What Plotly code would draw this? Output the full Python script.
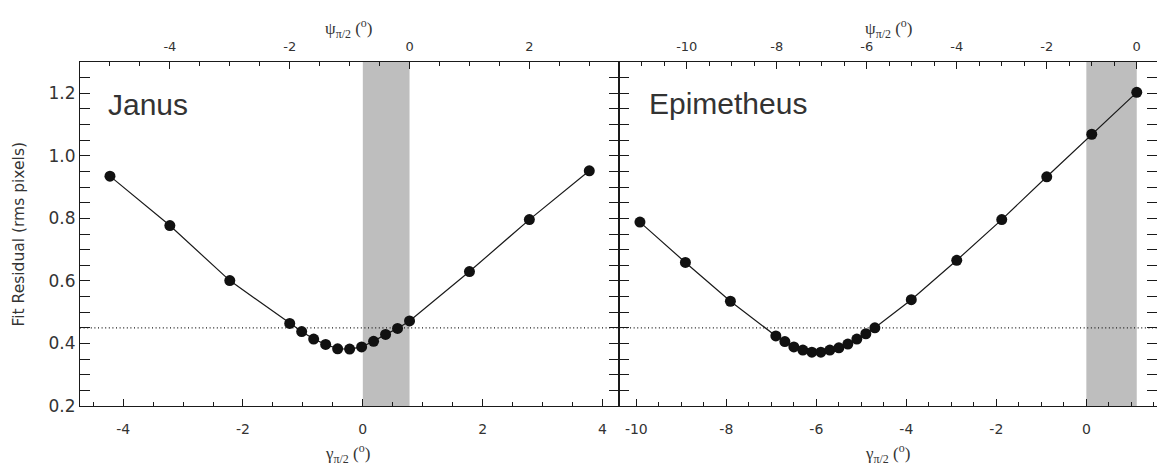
import plotly.graph_objects as go

# ---------------- data ----------------
janus_gamma = [-4.22, -3.22, -2.22, -1.22, -1.02, -0.82, -0.62, -0.42, -0.22,
               -0.02, 0.18, 0.38, 0.58, 0.78, 1.78, 2.78, 3.78]
janus_resid = [0.935, 0.777, 0.601, 0.464, 0.438, 0.414, 0.397, 0.383, 0.382,
               0.389, 0.407, 0.429, 0.448, 0.472, 0.630, 0.796, 0.952]

epi_gamma = [-9.92, -8.91, -7.91, -6.90, -6.70, -6.50, -6.30, -6.10, -5.90,
             -5.70, -5.50, -5.30, -5.10, -4.90, -4.70, -3.89, -2.88, -1.88,
             -0.88, 0.12, 1.12]
epi_resid = [0.788, 0.659, 0.535, 0.424, 0.406, 0.389, 0.379, 0.372, 0.372,
             0.379, 0.386, 0.398, 0.414, 0.431, 0.450, 0.540, 0.666, 0.796,
             0.933, 1.069, 1.203]

# gamma - psi offsets (psi = 0 at these gamma values) and shaded bands
janus_offset = 0.78
epi_offset = 1.12
janus_band = [0.0, 0.78]
epi_band = [0.0, 1.12]
threshold = 0.45

# axis ranges / ticks
janus_psi_range = [-5.5, 3.5]
epi_psi_range = [-11.5, 0.45]
y_range = [0.2, 1.3]

janus_bottom_ticks = [-4, -2, 0, 2, 4]
janus_bottom_text = ["-4", "-2", "0", "2", "4"]
janus_top_ticks = [-4, -2, 0, 2]
janus_top_text = ["-4", "-2", "0", "2"]
epi_bottom_ticks = [-10, -8, -6, -4, -2, 0]
epi_bottom_text = ["-10", "-8", "-6", "-4", "-2", "0"]
epi_top_ticks = [-10, -8, -6, -4, -2, 0]
epi_top_text = ["-10", "-8", "-6", "-4", "-2", "0"]
y_ticks = [0.2, 0.4, 0.6, 0.8, 1.0, 1.2]
y_text = ["0.2", "0.4", "0.6", "0.8", "1.0", "1.2"]

# ---------------- styling ----------------
W, H = 1157, 466
ML, MR, MT, MB = 79.5, 0, 62, 60
split = (619 - ML) / (W - ML - MR)

INK = "#1a1a1a"
TXT = "#333333"
TICKFONT = "DejaVu Sans"

fig = go.Figure()

for xa, ya, gx, ry in [("x", "y", janus_gamma, janus_resid),
                       ("x2", "y2", epi_gamma, epi_resid)]:
    fig.add_trace(go.Scatter(
        x=gx, y=ry, xaxis=xa, yaxis=ya, mode="lines+markers",
        line=dict(color=INK, width=1.2),
        marker=dict(color="#111111", size=11, line=dict(width=0)),
        showlegend=False, hoverinfo="skip"))

# shaded bands
for xref, yref, band in [("x", "y domain", janus_band), ("x2", "y2 domain", epi_band)]:
    fig.add_shape(type="rect", xref=xref, yref=yref, x0=band[0], x1=band[1],
                  y0=0, y1=1, fillcolor="#bebebe", line=dict(width=0), layer="below")
# dotted threshold line
for xref, yref in [("x domain", "y"), ("x2 domain", "y2")]:
    fig.add_shape(type="line", xref=xref, yref=yref, x0=0, x1=1, y0=threshold, y1=threshold,
                  line=dict(color=INK, width=1.2, dash="1px,2.6px"), layer="below")


def xax(rng, tv, tt, side, dom, anchor, fs, standoff, overlay=None):
    d = dict(range=rng, domain=dom, anchor=anchor, side=side,
             tickmode="array", tickvals=tv, ticktext=tt,
             ticks="inside", ticklen=7, tickwidth=1, tickcolor=INK,
             minor=dict(ticks="inside", ticklen=3.5, tickwidth=1, tickcolor=INK,
                        tickmode="linear", tick0=0, dtick=0.5),
             showline=True, linecolor=INK, linewidth=1.2, mirror=False,
             showgrid=False, zeroline=False, ticklabelstandoff=standoff,
             tickfont=dict(family=TICKFONT, size=fs, color=TXT))
    if overlay:
        d["overlaying"] = overlay
    return d


def yax(dom_anchor, show_labels):
    return dict(range=y_range, domain=[0, 1], anchor=dom_anchor,
                tickmode="array", tickvals=y_ticks, ticktext=y_text,
                showticklabels=show_labels,
                ticks="inside", ticklen=10, tickwidth=1, tickcolor=INK,
                minor=dict(ticks="inside", ticklen=5, tickwidth=1, tickcolor=INK,
                           tickmode="linear", tick0=0.2, dtick=0.05),
                showline=True, linecolor=INK, linewidth=1.2, mirror="allticks",
                showgrid=False, zeroline=False,
                tickfont=dict(family=TICKFONT, size=17, color=TXT))


janus_gamma_range = [janus_psi_range[0] + janus_offset, janus_psi_range[1] + janus_offset]
epi_gamma_range = [epi_psi_range[0] + epi_offset, epi_psi_range[1] + epi_offset]

fig.update_layout(
    width=W, height=H,
    margin=dict(l=ML, r=MR, t=MT, b=MB, pad=0),
    paper_bgcolor="white", plot_bgcolor="white",
    xaxis=xax(janus_gamma_range, janus_bottom_ticks, janus_bottom_text, "bottom", [0, split], "y", 14, 10),
    xaxis3=xax(janus_psi_range, janus_top_ticks, janus_top_text, "top", [0, split], "y", 13, 5, overlay="x"),
    xaxis2=xax(epi_gamma_range, epi_bottom_ticks, epi_bottom_text, "bottom", [split, 1], "y2", 14, 10),
    xaxis4=xax(epi_psi_range, epi_top_ticks, epi_top_text, "top", [split, 1], "y2", 13, 5, overlay="x2"),
    yaxis=yax("x", True),
    yaxis2=yax("x2", False),
)

# invisible traces to activate the top axes
fig.add_trace(go.Scatter(x=[None], y=[None], xaxis="x3", yaxis="y", showlegend=False))
fig.add_trace(go.Scatter(x=[None], y=[None], xaxis="x4", yaxis="y2", showlegend=False))


def px2paper_x(px):
    return (px - ML) / (W - ML - MR)


def px2paper_y(py):
    return (H - MB - py) / (H - MT - MB)


ann = []
ann.append(dict(text="Janus", x=px2paper_x(106), y=px2paper_y(104), xref="paper", yref="paper",
                xanchor="left", yanchor="middle", showarrow=False,
                font=dict(family="Liberation Sans", size=30, color=TXT)))
ann.append(dict(text="Epimetheus", x=px2paper_x(647), y=px2paper_y(103), xref="paper", yref="paper",
                xanchor="left", yanchor="middle", showarrow=False,
                font=dict(family="Liberation Sans", size=30, color=TXT)))
ann.append(dict(text="Fit Residual (rms pixels)", x=px2paper_x(18), y=px2paper_y(234),
                xref="paper", yref="paper", textangle=-90, xanchor="center", yanchor="middle",
                showarrow=False, font=dict(family=TICKFONT, size=15.5, color=TXT)))
for cx in [348, 888]:
    ann.append(dict(text="ψ<sub>π/2</sub> (<sup>o</sup>)", x=px2paper_x(cx), y=px2paper_y(28),
                    xref="paper", yref="paper", xanchor="center", yanchor="middle",
                    showarrow=False, font=dict(family="Liberation Serif", size=17, color=TXT)))
    ann.append(dict(text="γ<sub>π/2</sub> (<sup>o</sup>)", x=px2paper_x(cx - 1), y=px2paper_y(453),
                    xref="paper", yref="paper", xanchor="center", yanchor="middle",
                    showarrow=False, font=dict(family="Liberation Serif", size=17, color=TXT)))
fig.update_layout(annotations=ann)

fig.write_html("out.html", config={"displayModeBar": False},
               post_script="document.body.style.margin='0';document.body.style.padding='0';")
